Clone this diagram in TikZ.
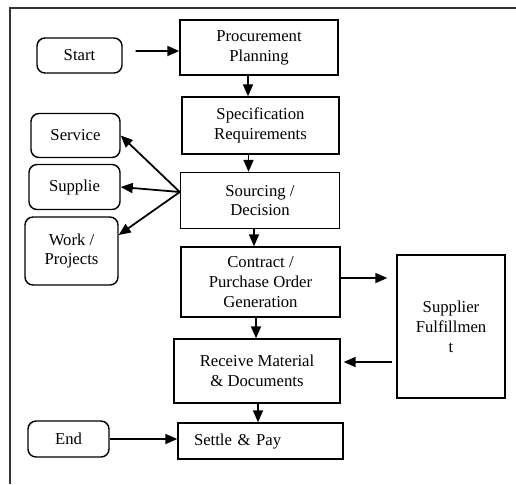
\documentclass[tikz,border=0pt]{standalone}
\usepackage{fontspec}
\setmainfont{Liberation Serif}
\usepackage{tikz}
\usetikzlibrary{positioning,calc,arrows.meta}

\begin{document}
\begin{tikzpicture}[x=0.02cm, y=-0.02cm,
	every node/.style={font=\fontsize{9.5}{11.3}\selectfont, align=center},
	procbox/.style={rectangle, draw, line width=0.8pt, inner sep=2pt},
	termbox/.style={rectangle, rounded corners=0.16cm, draw, line width=0.8pt, inner sep=2pt},
	arr/.style={line width=1pt, -{Triangle[length=0.24cm, width=0.2cm]}}]
	\useasboundingbox (0,0) rectangle (516,484);
	\draw[line width=0.6pt, black!80] (10,484) -- (10,8) -- (516,8);
	\node[termbox, minimum width=1.7cm, minimum height=0.7cm] (start) at (79.5,55.5) {Start};
	\node[procbox, minimum width=3.16cm, minimum height=1.1cm] (plan) at (259,47.5) {Procurement\\Planning};
	\node[procbox, minimum width=3.14cm, minimum height=1.14cm] (spec) at (260.5,125.5) {Specification\\Requirements};
	\node[procbox, minimum width=3.18cm, minimum height=1.12cm] (src) at (260,200.5) {Sourcing /\\Decision};
	\node[termbox, minimum width=1.78cm, minimum height=0.88cm] (service) at (75.5,135.5) {Service};
	\node[termbox, minimum width=1.82cm, minimum height=0.9cm] (supplie) at (74.5,187) {Supplie};
	\node[termbox, minimum width=1.86cm, minimum height=1.36cm] (work) at (71.5,251) {Work /\\Projects};
	\node[procbox, minimum width=3.18cm, minimum height=1.4cm] (contract) at (260.5,282) {Contract /\\Purchase Order\\Generation};
	\node[procbox, minimum width=2.16cm, minimum height=2.86cm] (supplier) at (451,326.5) {Supplier\\Fulfillmen\\t};
	\node[procbox, minimum width=3.32cm, minimum height=1.28cm] (receive) at (257,371) {Receive Material\\\& Documents};
	\node[procbox, minimum width=3.3cm, minimum height=0.72cm, inner xsep=0.32cm, text width=2.66cm, align=left] (settle) at (260.5,441) {Settle \& Pay};
	\node[termbox, minimum width=1.62cm, minimum height=0.72cm] (end) at (68.5,439) {End};
	\draw[arr] ([xshift=0.26cm, yshift=0.09cm]start.east) -- ([yshift=-0.07cm]plan.west);
	\draw[arr] ([xshift=-0.22cm]plan.south) -- ([xshift=-0.22cm]plan.south |- spec.north);
	\draw[arr] ([xshift=-0.24cm]spec.south) -- ([xshift=-0.24cm]spec.south |- src.north);
	\draw[arr] ([yshift=0.17cm]src.west) -- (service.east);
	\draw[arr] ([yshift=0.17cm]src.west) -- (supplie.east);
	\draw[arr] ([yshift=0.17cm]src.west) -- ([yshift=0.32cm]work.east);
	\draw[arr] ([xshift=-0.12cm]src.south) -- ([xshift=-0.12cm]src.south |- contract.north);
	\draw[arr, shorten >=0.18cm] ([yshift=0.08cm]contract.east) -- ([yshift=0.08cm]contract.east -| supplier.west);
	\draw[arr] ([xshift=-0.09cm]contract.south) -- ([xshift=-0.09cm]contract.south |- receive.north);
	\draw[arr, shorten <=0.08cm, shorten >=0.06cm] ([yshift=-0.71cm]supplier.west) -- ([yshift=-0.71cm]supplier.west -| receive.east);
	\draw[arr] ([xshift=0.02cm]receive.south) -- ([xshift=0.02cm]receive.south |- settle.north);
	\draw[arr] (end.east) -- (end.east -| settle.west);
\end{tikzpicture}
\end{document}
